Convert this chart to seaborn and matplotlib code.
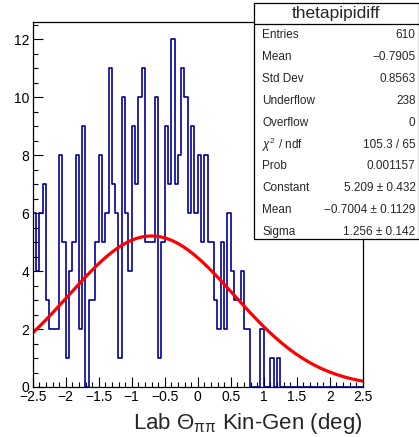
import numpy as np
import pandas as pd
import matplotlib
matplotlib.use("Agg")
import matplotlib.pyplot as plt
from matplotlib.patches import Rectangle
import seaborn as sns

# histogram thetapipidiff: 100 bins from -2.5 to 2.5
x_min, x_max, n_bins = -2.5, 2.5, 100
counts = [
    6, 4, 6, 7, 3, 2, 2, 2, 8, 5,
    1, 4, 5, 8, 2, 9, 0, 3, 3, 5,
    8, 5, 6, 11, 7, 6, 1, 10, 6, 4,
    9, 7, 10, 11, 5, 5, 5, 10, 1, 5,
    9, 7, 12, 7, 8, 11, 10, 6, 9, 6,
    8, 5, 8, 5, 5, 3, 2, 5, 2, 6,
    4, 3, 3, 4, 2, 2, 0, 0, 0, 2,
    0, 0, 1, 0, 1, 0, 0, 0, 0, 0,
    0, 0, 0, 0, 0, 0, 0, 0, 0, 0,
    0, 0, 0, 0, 0, 0, 0, 0, 0, 0,
]

# gaus fit parameters
fit_constant = 5.209
fit_mean = -0.7004
fit_sigma = 1.256

stats_title = "thetapipidiff"
stats_labels = ["Entries", "Mean", "Std Dev", "Underflow", "Overflow",
                r"$\chi^{2}$ / ndf", "Prob", "Constant", "Mean", "Sigma"]
stats_values = ["610", "\u22120.7905", "0.8563", "238", "0",
                "105.3 / 65", "0.001157", "5.209 \u00b1 0.432",
                "\u22120.7004 \u00b1 0.1129", "1.256 \u00b1 0.142"]

x_ticks = [-2.5, -2, -1.5, -1, -0.5, 0, 0.5, 1, 1.5, 2, 2.5]
x_tick_labels = ["\u22122.5", "\u22122", "\u22121.5", "\u22121", "\u22120.5",
                 "0", "0.5", "1", "1.5", "2", "2.5"]
y_ticks = [0, 2, 4, 6, 8, 10, 12]

sns.set_theme(style="ticks")
plt.rcParams["font.family"] = ["Liberation Sans", "DejaVu Sans"]
plt.rcParams["mathtext.fontset"] = "custom"
plt.rcParams["mathtext.rm"] = "Liberation Sans"
plt.rcParams["mathtext.it"] = "Liberation Sans:italic"
plt.rcParams["mathtext.bf"] = "Liberation Sans:bold"

W, H = 419, 437
fig = plt.figure(figsize=(W / 100, H / 100), dpi=100)
ax = fig.add_axes([32.7 / W, 1 - 387 / H, 330 / W, 365.3 / H])

bin_width = (x_max - x_min) / n_bins
hist_df = pd.DataFrame({
    "theta": x_min + bin_width * (np.arange(n_bins) + 0.5),
    "n": counts,
})
sns.histplot(data=hist_df, x="theta", weights="n", bins=n_bins,
             binrange=(x_min, x_max), element="step", fill=False,
             color="#000099", linewidth=1.2, ax=ax)

xs = np.linspace(x_min, x_max, 300)
fit_df = pd.DataFrame({
    "theta": xs,
    "f": fit_constant * np.exp(-0.5 * ((xs - fit_mean) / fit_sigma) ** 2),
})
sns.lineplot(data=fit_df, x="theta", y="f", color="#ff0000", linewidth=2.3, ax=ax)

ax.set_xlim(x_min, x_max)
ax.set_ylim(0, 12.6)
ax.set_xticks(x_ticks)
ax.set_xticklabels(x_tick_labels)
ax.set_yticks(y_ticks)
ax.set_xticks(np.arange(-2.5, 2.51, 0.1), minor=True)
ax.set_yticks(np.arange(0, 12.6, 0.5), minor=True)
ax.tick_params(which="both", direction="in", top=False, right=False,
               colors="black", width=0.8, labelsize=10)
ax.tick_params(which="major", length=7.5)
ax.tick_params(which="minor", length=3.6)
ax.tick_params(axis="x", pad=2.5)
ax.tick_params(axis="y", pad=2.5)
for sp in ax.spines.values():
    sp.set_color("black")
    sp.set_linewidth(0.9)
    sp.set_visible(True)

ax.set_ylabel("")
ax.set_xlabel(r"Lab $\Theta_{\mathrm{\pi\pi}}$ Kin-Gen (deg)", fontsize=16,
              loc="right")
ax.xaxis.set_label_coords(1.0, -0.066)

# stats box
bx0, bx1 = 254 / W, 418.5 / W
by_top, by_bot, by_div = 1 - 3 / H, 1 - 239 / H, 1 - 24 / H
fig.patches.append(Rectangle((bx0, by_bot), bx1 - bx0, by_top - by_bot,
                             transform=fig.transFigure, facecolor="white",
                             edgecolor="black", linewidth=0.9, zorder=5))
fig.lines.append(plt.Line2D([bx0, bx1], [by_div, by_div], transform=fig.transFigure,
                            color="black", linewidth=0.9, zorder=6))
fig.text((bx0 + bx1) / 2, 1 - 13.5 / H, stats_title, ha="center", va="center",
         fontsize=12.5, zorder=7)
for i, (lab, val) in enumerate(zip(stats_labels, stats_values)):
    yy = 1 - (35 + 21.9 * i) / H
    fig.text(262 / W, yy, lab, ha="left", va="center", fontsize=8.5, zorder=7)
    fig.text(415.5 / W, yy, val, ha="right", va="center", fontsize=8.5, zorder=7)

fig.savefig("out.png", dpi=100)
